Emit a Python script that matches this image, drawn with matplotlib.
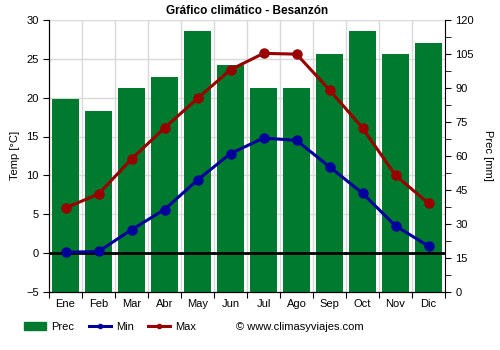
import matplotlib
matplotlib.use("Agg")
import matplotlib.pyplot as plt
import numpy as np
from matplotlib.patches import Patch
from matplotlib.lines import Line2D

plt.rcParams['font.family'] = ['Liberation Sans', 'DejaVu Sans']

months = ["Ene", "Feb", "Mar", "Abr", "May", "Jun", "Jul", "Ago", "Sep", "Oct", "Nov", "Dic"]
prec = [85, 80, 90, 95, 115, 100, 90, 90, 105, 115, 105, 110]
tmin = [0.1, 0.2, 3.0, 5.6, 9.4, 12.8, 14.8, 14.5, 11.1, 7.7, 3.5, 0.9]
tmax = [5.8, 7.6, 12.1, 16.1, 19.9, 23.6, 25.7, 25.6, 21.0, 16.1, 10.0, 6.4]

green = "#007a2e"
blue = "#00009c"
red = "#990000"
grid_c = "#d9d9d9"

fig = plt.figure(figsize=(5.0, 3.5), dpi=100)
ax = fig.add_axes([0.098, 0.166, 0.792, 0.777])
ax2 = ax.twinx()

x = np.arange(len(months))

# precipitation bars on the right axis, drawn behind the temperature lines
ax2.bar(x, prec, width=0.8, color=green, zorder=2)
ax2.set_ylim(0, 120)
ax2.set_yticks(np.arange(0, 121, 15))
ax2.set_yticks(np.arange(0, 121, 7.5), minor=True)
ax2.set_ylabel("Prec [mm]", rotation=270, labelpad=14, fontsize=8)

ax.set_zorder(ax2.get_zorder() + 1)
ax.patch.set_visible(False)
ax2.patch.set_visible(True)
ax2.patch.set_facecolor("white")

ax.set_xlim(-0.5, 11.5)
ax.set_ylim(-5, 30)
ax.set_yticks(np.arange(-5, 31, 5))
ax.set_xticks(np.arange(-0.5, 12, 1))
ax.set_xticklabels([])
ax.set_xticks(x, minor=True)
ax.set_xticklabels(months, minor=True)
ax.tick_params(axis='x', which='minor', length=0, labelsize=8, pad=5)
ax.tick_params(axis='x', which='major', length=4)
ax.tick_params(axis='y', labelsize=8, length=4)
ax2.tick_params(axis='y', which='both', labelsize=8, length=4)
ax.set_ylabel("Temp [°C]", fontsize=8, labelpad=4)

# gridlines on the back axis so bars cover them
for v in np.arange(-5, 31, 5):
    ax2.axhline((v + 5) * 120 / 35, color=grid_c, lw=1, zorder=1)
for b in np.arange(0.5, 11, 1):
    ax2.axvline(b, color=grid_c, lw=1, zorder=1)

ax.axhline(0, color="black", lw=2, zorder=3)
ax.plot(x, tmin, color=blue, lw=2.2, marker="o", ms=6.5, zorder=4)
ax.plot(x, tmax, color=red, lw=2.2, marker="o", ms=6.5, zorder=4)

for a in (ax, ax2):
    a.spines['top'].set_visible(False)
ax.spines['right'].set_visible(False)

ax.set_title("Gráfico climático - Besanzón", fontsize=8.5, fontweight="bold", pad=4)

handles = [
    Patch(facecolor=green, edgecolor=green),
    Line2D([0], [0], color=blue, lw=2.2, marker="o", ms=3),
    Line2D([0], [0], color=red, lw=2.2, marker="o", ms=3),
]
fig.legend(handles, ["Prec", "Min", "Max"], loc="center left",
           bbox_to_anchor=(0.028, 0.067), ncol=3, frameon=False, fontsize=8,
           handlelength=2.0, handletextpad=0.45, columnspacing=1.3)
fig.text(0.472, 0.067, "© www.climasyviajes.com", fontsize=8, va="center", ha="left")

fig.savefig("out.png", dpi=100)
